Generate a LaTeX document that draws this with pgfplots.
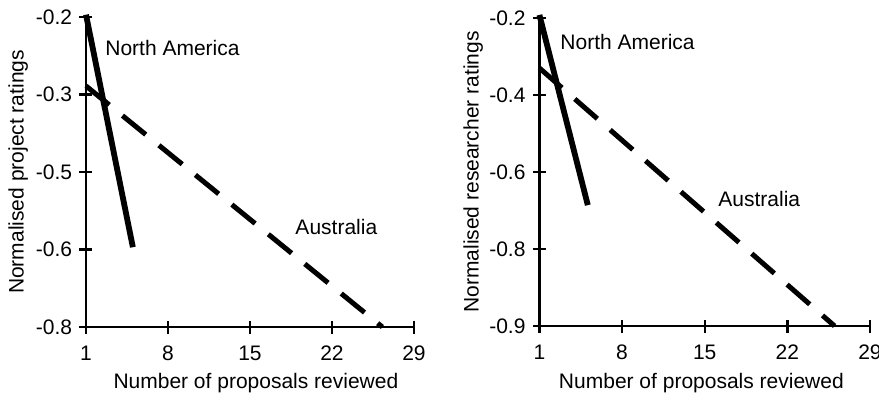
\documentclass[border=0pt]{standalone}
\usepackage{fontspec}
\setmainfont{Liberation Sans}
\usepackage{pgfplots}
\pgfplotsset{compat=1.18}
\begin{document}
\fontsize{10.5}{12}\selectfont
\begin{tikzpicture}
\useasboundingbox (0,0) rectangle (439.5pt,196.5pt);
\pgfplotsset{
  myaxis/.style={
    scale only axis,
    anchor=south west,
    axis x line=bottom, axis y line=left,
    axis line style={line width=1.3pt,-},
    xmin=1, xmax=29, ymin=0, ymax=4,
    xtick={1,8,15,22,29}, ytick={0,1,2,3,4},
    /pgf/number format/assume math mode=true,
    major tick style={line width=1.2pt,black},
    every tick/.style={line width=1.2pt,black},
    major tick length=6.5pt,
    tick align=center,
    every tick label/.append style={font=\fontsize{10.5}{12}\selectfont},
    label style={font=\fontsize{10.5}{12}\selectfont},
    xticklabel style={yshift=-5pt},
    yticklabel style={xshift=-2.5pt},
    clip=false,
    tick label style={inner sep=1pt},
  },
  na/.style={black,line width=2.9pt},
  au/.style={black,line width=2.5pt,dash pattern=on 15pt off 8.5pt},
}
\begin{axis}[myaxis, at={(43pt,33pt)}, width=164pt, height=155pt,
  yticklabels={-0.8,-0.6,-0.5,-0.3,-0.2},
  xlabel={Number of proposals reviewed},
  ylabel={Normalised project ratings},
  every axis x label/.style={at={(axis description cs:0.518,-0.18)},anchor=center},
  every axis y label/.style={at={(axis description cs:-0.207,0.5)},rotate=90,anchor=center}]
\addplot[na] coordinates {(1,4.03) (5,1.03)};
\addplot[au] coordinates {(1,3.11) (26.3,0)};
\node[anchor=west,inner sep=0pt] at (axis cs:2.62,3.6) {North America};
\node[anchor=west,inner sep=0pt] at (axis cs:18.85,1.29) {Australia};
\end{axis}
\begin{axis}[myaxis, at={(269.7pt,33.5pt)}, width=165.3pt, height=154pt,
  yticklabels={-0.9,-0.8,-0.6,-0.4,-0.2},
  xlabel={Number of proposals reviewed},
  ylabel={Normalised researcher ratings},
  every axis x label/.style={at={(axis description cs:0.49,-0.185)},anchor=center},
  every axis y label/.style={at={(axis description cs:-0.2,0.5)},rotate=90,anchor=center}]
\addplot[na] coordinates {(1,4.04) (5.1,1.57)};
\addplot[au] coordinates {(1,3.35) (26.0,0)};
\node[anchor=west,inner sep=0pt] at (axis cs:2.75,3.69) {North America};
\node[anchor=west,inner sep=0pt] at (axis cs:16.13,1.65) {Australia};
\end{axis}
\end{tikzpicture}
\end{document}
